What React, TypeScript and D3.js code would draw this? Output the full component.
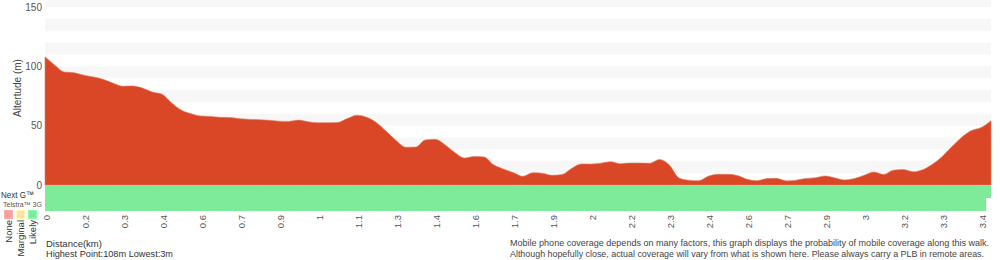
import React from 'react';
import * as d3 from 'd3';

// elevation (m) sampled along the walk, one value per point
const elevation = [
	108, 101, 95.2, 94.6, 92.5, 91, 89, 85.8, 83.3, 83.5,
	81.7, 78.3, 76.5, 69, 63, 60, 58.1, 57.8, 57, 56.8,
	55.8, 55.3, 55, 54.6, 53.8, 53.6, 54.7, 53.3, 52.5, 52.5,
	52.7, 56, 58.8, 57, 52.5, 45.2, 37.5, 31.8, 32, 38,
	38.5, 34, 27.5, 22.7, 24, 23.7, 17, 13.5, 10.5, 7.3,
	10.3, 9.9, 8.2, 8.8, 14, 17.8, 17.6, 18.4, 19.6, 17.9,
	18.5, 18.5, 18.3, 21.5, 17, 6, 4.1, 3.6, 7.4, 9,
	9, 8, 4.8, 3.6, 5.4, 5.6, 3.5, 4.1, 5.5, 6.2,
	7.6, 6, 4.3, 5.5, 8.2, 11, 8.9, 12.5, 13, 11.2,
	12.9, 17.5, 24.1, 32.4, 40.3, 45.9, 48.5, 54.2
];

// distance labels shown under every 4th point
const distanceLabels = [
	'0', '0.2', '0.3', '0.4', '0.6', '0.7', '0.9', '1', '1.1', '1.3', '1.4', '1.6', '1.7',
	'1.9', '2', '2.2', '2.3', '2.4', '2.6', '2.7', '2.9', '3', '3.2', '3.3', '3.4'
];
const labelEvery = 4;

const yTicks = [0, 50, 100, 150];

// coverage runs: [first point, last point, level]
const nextGRuns = [[0, 97, 'Likely']];
const telstra3GRuns = [[0, 96, 'Likely']];

const levels = ['None', 'Marginal', 'Likely'];
const levelColors = { None: '#ff9c9c', Marginal: '#ffe0a6', Likely: '#7deb9a' };

const W = 1000, H = 260;
const left = 45, right = 991, top = 0, zeroY = 185;
const font = '"Liberation Sans", Arial, Helvetica, sans-serif';

export default function App() {
	const x = d3.scaleLinear().domain([0, elevation.length - 1]).range([left, right]);
	const y = d3.scaleLinear().domain([0, 150]).range([zeroY, 7]);
	const yTop = y.invert(top);

	const area = d3.area<number>()
		.x((d, i) => x(i))
		.y0(y(0))
		.y1(d => y(d))
		.curve(d3.curveMonotoneX);

	// alternating grey bands every 10 m
	const bands = d3.range(10, yTop, 20);

	const rowY = [zeroY, 198, 211];
	const clampX = (v: number) => Math.max(left, Math.min(right, v));

	const rows = [nextGRuns, telstra3GRuns];
	const summary = `Highest Point:${d3.max(elevation)}m Lowest:${Math.floor(d3.min(elevation)!)}m`;

	return (
		<svg width={W} height={H} style={{ position: 'absolute', left: 0, top: 0, fontFamily: font }}>
			{bands.map(b => (
				<rect key={b} x={left} width={right - left} y={Math.max(top, y(b + 10))}
					height={y(b) - Math.max(top, y(b + 10))} fill="#f7f7f7" />
			))}
			<path d={area(elevation) || ''} fill="#da4726" stroke="#e07a62" strokeWidth={0.6} />

			{rows.map((runs, r) => runs.map((run, k) => (
				<rect key={r + '-' + k}
					x={clampX(x((run[0] as number) - 0.5))}
					width={clampX(x((run[1] as number) + 0.5)) - clampX(x((run[0] as number) - 0.5))}
					y={rowY[r]} height={rowY[r + 1] - rowY[r]}
					fill={levelColors[run[2] as string]} />
			)))}

			{yTicks.map(t => (
				<text key={t} x={42} y={y(t)} dy="0.35em" textAnchor="end" fontSize={10} fill="#555">{t}</text>
			))}
			<text transform={`translate(21,${88}) rotate(-90)`} textAnchor="middle" fontSize={10} fill="#444">Altertude (m)</text>

			<text x={1} y={197.5} fontSize={9.5} fill="#333" textLength={33} lengthAdjust="spacingAndGlyphs">Next G™</text>
			<text x={3} y={207} fontSize={7} fill="#555">Telstra™ 3G</text>

			{levels.map((l, i) => (
				<g key={l}>
					<rect x={4.5 + i * 12} y={210.5} width={8} height={8} fill={levelColors[l]}
						stroke={d3.color(levelColors[l])!.brighter(0.3).toString()} strokeWidth={1} />
					<text transform={`translate(${8.5 + i * 12},220) rotate(-90)`} dy="0.35em" textAnchor="end"
						fontSize={9.5} fill="#333">{l}</text>
				</g>
			))}

			{distanceLabels.map((l, i) => (
				<text key={i} transform={`translate(${x(i * labelEvery) + 1.5},215) rotate(-90)`} dy="0.35em"
					textAnchor="end" fontSize={9.5} fill="#555">{l}</text>
			))}

			<text x={46} y={247} fontSize={9.5} fill="#333">Distance(km)</text>
			<text x={46} y={257} fontSize={9.5} fill="#333" textLength={127} lengthAdjust="spacingAndGlyphs">{summary}</text>

			<text x={510} y={246} fontSize={9} fill="#444" textLength={479} lengthAdjust="spacingAndGlyphs">Mobile phone coverage depends on many factors, this graph displays the probability of mobile coverage along this walk.</text>
			<text x={510} y={257} fontSize={9} fill="#444" textLength={474} lengthAdjust="spacingAndGlyphs">Although hopefully close, actual coverage will vary from what is shown here. Please always carry a PLB in remote areas.</text>
		</svg>
	);
}
